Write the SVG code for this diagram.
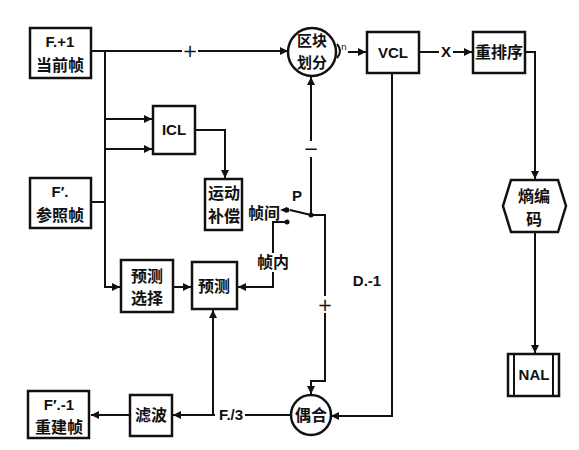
<svg xmlns="http://www.w3.org/2000/svg" width="579" height="450" viewBox="0 0 579 450">
<defs>
<marker id="ah" viewBox="0 0 10 10" refX="10" refY="5" markerWidth="9" markerHeight="8" markerUnits="userSpaceOnUse" orient="auto">
<path d="M0,0 L10,5 L0,10 Z" fill="#111"/>
</marker>
</defs>
<style>
.box{fill:#fff;stroke:#111;stroke-width:2.5}
.ln{fill:none;stroke:#111;stroke-width:2}
.cn{font-family:"Noto Sans CJK SC","Liberation Sans",sans-serif;font-size:16px;font-weight:bold;fill:#111;text-anchor:middle}
.cs{font-size:15px}
.lt{font-family:"Liberation Sans","Noto Sans CJK SC",sans-serif;font-size:15px;font-weight:bold;fill:#111;text-anchor:middle}
.sg{font-family:"DejaVu Sans",sans-serif;font-size:18px;fill:#111;text-anchor:middle}
</style>
<rect width="579" height="450" fill="#fff"/>
<g id="connectors">
<path class="ln" d="M91,51 H182 M198,51 H288" marker-end="url(#ah)"/>
<path class="ln" d="M91,51 H182"/>
<path class="ln" d="M105,51 V287 H120" marker-end="url(#ah)"/>
<path class="ln" d="M91,202 H105"/>
<path class="ln" d="M105,119 H152" marker-end="url(#ah)"/>
<path class="ln" d="M105,149 H152" marker-end="url(#ah)"/>
<path class="ln" d="M195,130 H225 V178" marker-end="url(#ah)"/>
<path class="ln" d="M311,215 V157" />
<path class="ln" d="M311,141 V77" marker-end="url(#ah)"/>
<path class="ln" d="M311,215 H325 V296"/>
<path class="ln" d="M325,313 V381 H311 V394" marker-end="url(#ah)"/>
<path class="ln" d="M290,210 L311,215"/>
<circle cx="311" cy="215" r="2.5" fill="#111"/>
<circle cx="287" cy="210" r="2.5" fill="#111"/>
<path d="M280,210 L287,207 L287,213 Z" fill="#111"/>
<circle cx="287" cy="222" r="2.5" fill="#111"/>
<path class="ln" d="M287,222 H273 V253"/>
<path class="ln" d="M273,272 V287 H238" marker-end="url(#ah)"/>
<path class="ln" d="M173,287 H191" marker-end="url(#ah)"/>
<path class="ln" d="M337,44 Q343,51 337,58"/>
<path class="ln" d="M348,52 H366" marker-end="url(#ah)"/>
<path class="ln" d="M419,52 H439 M453,52 H472" marker-end="url(#ah)"/>
<path class="ln" d="M419,52 H439"/>
<path class="ln" d="M525,52 H535 V179" marker-end="url(#ah)"/>
<path class="ln" d="M535,232 V353" marker-end="url(#ah)"/>
<path class="ln" d="M392,73 V416 H331" marker-end="url(#ah)"/>
<path class="ln" d="M291,415 H245"/>
<path class="ln" d="M215,415 H173" marker-end="url(#ah)"/>
<path class="ln" d="M213,415 V310" marker-end="url(#ah)"/>
<path class="ln" d="M130,415 H91" marker-end="url(#ah)"/>
<text class="sg" x="190" y="57">+</text>
<text class="sg" x="311" y="155">−</text>
<text class="sg" x="325" y="311">+</text>
<text class="lt" x="446" y="57">X</text>
<text class="lt" x="367" y="286">D.-1</text>
<text class="lt" x="231" y="420">F./3</text>
<text class="lt" x="297" y="201">P</text>
<text class="cn" x="264" y="219">帧间</text>
<text class="cn" x="273" y="268">帧内</text>
<text style="font-family:'DejaVu Sans',sans-serif;font-size:9px;fill:#111" x="341" y="50">n</text>
</g>
<g id="n_cur">
<rect class="box" x="30" y="28" width="61" height="50"/>
<text class="lt" x="60" y="47">F.+1</text>
<text class="cn" x="60" y="71">当前帧</text>
</g>
<g id="n_ref">
<rect class="box" x="30" y="178" width="61" height="50"/>
<text class="lt" x="60" y="197">F′.</text>
<text class="cn" x="60" y="221">参照帧</text>
</g>
<g id="n_icl">
<rect class="box" x="153" y="106" width="42" height="48"/>
<text class="lt" x="174" y="135">ICL</text>
</g>
<g id="n_mc">
<rect class="box" x="205" y="179" width="37" height="51"/>
<text class="cn" x="224" y="199">运动</text>
<text class="cn" x="224" y="222">补偿</text>
</g>
<g id="n_sel">
<rect class="box" x="121" y="260" width="52" height="52"/>
<text class="cn" x="147" y="282">预测</text>
<text class="cn" x="147" y="304">选择</text>
</g>
<g id="n_pred">
<rect class="box" x="192" y="262" width="45" height="47"/>
<text class="cn" x="214" y="292">预测</text>
</g>
<g id="n_block">
<circle class="box" cx="312" cy="52" r="24"/>
<text class="cn cs" x="312" y="46">区块</text>
<text class="cn cs" x="312" y="68">划分</text>
</g>
<g id="n_vcl">
<rect class="box" x="367" y="32" width="52" height="41"/>
<text class="lt" x="393" y="58">VCL</text>
</g>
<g id="n_reorder">
<rect class="box" x="473" y="32" width="52" height="41"/>
<text class="cn" x="499" y="58">重排序</text>
</g>
<g id="n_entropy">
<polygon class="box" points="511,180 558,180 566,206 558,232 511,232 503,206"/>
<text class="cn" x="534" y="202">熵编</text>
<text class="cn" x="534" y="225">码</text>
</g>
<g id="n_nal">
<rect class="box" x="508" y="354" width="51" height="42"/>
<path class="ln" d="M514,354 V396 M553,354 V396"/>
<text class="lt" x="534" y="380">NAL</text>
</g>
<g id="n_couple">
<circle class="box" cx="311" cy="415" r="20"/>
<text class="cn" x="311" y="421">偶合</text>
</g>
<g id="n_filter">
<rect class="box" x="130" y="395" width="42" height="41"/>
<text class="cn" x="151" y="421">滤波</text>
</g>
<g id="n_recon">
<rect class="box" x="28" y="391" width="61" height="47"/>
<text class="lt" x="59" y="410">F′.-1</text>
<text class="cn" x="59" y="433">重建帧</text>
</g>
</svg>
